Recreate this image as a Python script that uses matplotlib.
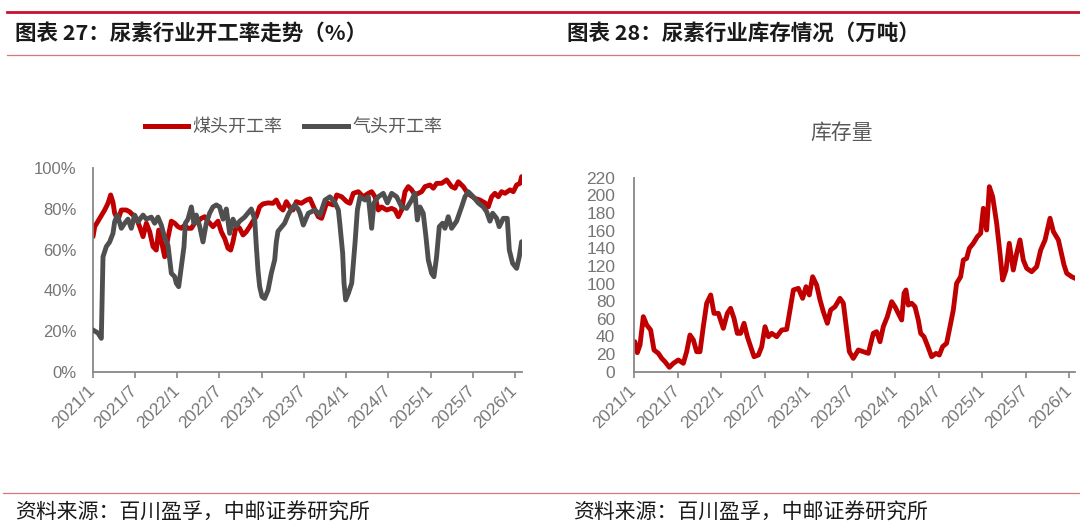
import matplotlib
matplotlib.use("Agg")
import matplotlib.pyplot as plt
from matplotlib.lines import Line2D

CJK = ["Noto Sans CJK SC", "DejaVu Sans"]
NUM = ["Liberation Sans", "DejaVu Sans"]

# ---------------- data (time = years since 2021-01-01) ----------------
tick_labels = ["2021/1", "2021/7", "2022/1", "2022/7", "2023/1", "2023/7",
               "2024/1", "2024/7", "2025/1", "2025/7", "2026/1"]

coal_t = [0.004, 0.024, 0.083, 0.142, 0.181, 0.213, 0.240, 0.260, 0.300, 0.339,
          0.398, 0.438, 0.477, 0.517, 0.556, 0.596, 0.635, 0.675, 0.714, 0.753,
          0.781, 0.820, 0.852, 0.892, 0.931, 0.971, 1.010, 1.049, 1.089, 1.128,
          1.168, 1.207, 1.247, 1.286, 1.326, 1.365, 1.424, 1.484, 1.523, 1.563,
          1.602, 1.634, 1.661, 1.701, 1.740, 1.780, 1.819, 1.859, 1.898, 1.937,
          1.977, 2.017, 2.076, 2.135, 2.174, 2.214, 2.253, 2.293, 2.332, 2.372,
          2.411, 2.470, 2.533, 2.573, 2.632, 2.671, 2.711, 2.770, 2.849, 2.889,
          2.948, 3.007, 3.046, 3.086, 3.145, 3.204, 3.264, 3.303, 3.343, 3.382,
          3.421, 3.481, 3.540, 3.580, 3.619, 3.658, 3.698, 3.737, 3.777, 3.816,
          3.856, 3.895, 3.935, 3.994, 4.033, 4.073, 4.132, 4.191, 4.250, 4.290,
          4.329, 4.388, 4.428, 4.467, 4.526, 4.586, 4.645, 4.684, 4.724, 4.763,
          4.803, 4.842, 4.882, 4.941, 4.980, 5.020, 5.059, 5.079]
coal_v = [66.4, 71.3, 75.4, 79.5, 82.8, 86.9, 83.3, 77.9, 74.6, 79.5,
          79.5, 78.6, 77.0, 75.4, 71.3, 66.4, 73.0, 68.8, 61.5, 59.8,
          69.6, 62.9, 56.5, 66.0, 74.0, 73.0, 71.3, 70.5, 72.0, 70.5,
          70.5, 73.0, 74.0, 75.4, 76.2, 74.0, 71.3, 74.0, 68.8, 65.5,
          60.7, 59.8, 63.9, 72.0, 70.5, 67.2, 68.8, 71.3, 74.0, 76.2,
          81.1, 82.5, 83.0, 82.8, 84.4, 81.0, 79.5, 83.6, 81.0, 79.5,
          83.6, 82.8, 84.4, 85.0, 79.5, 76.2, 75.4, 83.0, 82.0, 86.9,
          86.0, 83.6, 82.8, 87.7, 88.5, 86.0, 87.7, 88.5, 86.0, 79.5,
          81.0, 79.5, 80.3, 79.5, 76.2, 79.5, 88.5, 91.0, 89.4, 86.9,
          87.7, 88.5, 91.0, 91.8, 90.2, 92.6, 92.6, 94.3, 91.0, 90.2,
          93.4, 91.0, 88.5, 86.9, 85.2, 84.4, 83.0, 81.0, 86.0, 87.7,
          86.0, 88.5, 87.7, 89.4, 88.5, 91.8, 92.6, 95.9]

gas_t = [0.004, 0.063, 0.102, 0.122, 0.161, 0.201, 0.240, 0.260, 0.292, 0.339,
         0.379, 0.418, 0.457, 0.497, 0.536, 0.596, 0.635, 0.694, 0.734, 0.773,
         0.813, 0.852, 0.892, 0.931, 0.971, 0.990, 1.018, 1.049, 1.081, 1.097,
         1.128, 1.168, 1.199, 1.227, 1.266, 1.306, 1.345, 1.385, 1.424, 1.464,
         1.503, 1.543, 1.582, 1.622, 1.661, 1.701, 1.740, 1.799, 1.839, 1.878,
         1.918, 1.937, 1.957, 1.977, 2.005, 2.036, 2.076, 2.115, 2.155, 2.174,
         2.194, 2.234, 2.273, 2.313, 2.352, 2.392, 2.431, 2.454, 2.494, 2.553,
         2.632, 2.691, 2.751, 2.810, 2.869, 2.909, 2.928, 2.960, 2.976, 2.995,
         3.027, 3.067, 3.106, 3.134, 3.165, 3.225, 3.264, 3.303, 3.331, 3.382,
         3.441, 3.489, 3.540, 3.599, 3.658, 3.717, 3.777, 3.816, 3.844, 3.875,
         3.914, 3.946, 3.974, 4.013, 4.041, 4.072, 4.104, 4.143, 4.171, 4.210,
         4.250, 4.309, 4.368, 4.408, 4.447, 4.506, 4.565, 4.625, 4.664, 4.704,
         4.736, 4.783, 4.814, 4.862, 4.909, 4.933, 4.972, 5.020, 5.051, 5.079]
gas_v = [20.5, 19.0, 16.4, 56.5, 61.5, 63.8, 68.0, 73.7, 77.0, 70.5,
         73.0, 75.0, 70.5, 77.0, 73.7, 77.0, 75.0, 76.0, 73.0, 76.0,
         72.0, 66.0, 62.0, 48.4, 46.7, 43.5, 41.8, 51.7, 61.5, 73.0,
         75.0, 81.0, 73.0, 77.0, 71.6, 63.8, 73.0, 78.0, 81.0, 82.0,
         81.0, 75.0, 80.0, 68.0, 75.0, 71.6, 74.0, 76.0, 78.0, 80.0,
         75.0, 62.0, 50.0, 41.8, 36.9, 36.0, 40.0, 48.4, 55.0, 63.8,
         69.0, 71.0, 73.0, 77.0, 80.0, 82.0, 80.0, 77.9, 72.1, 77.9,
         79.5, 77.0, 84.4, 86.0, 83.0, 79.5, 72.0, 58.2, 43.5, 35.3,
         38.5, 43.5, 63.1, 79.5, 86.0, 84.4, 86.0, 70.5, 83.0, 86.0,
         87.7, 83.0, 87.7, 86.0, 81.0, 80.3, 84.4, 87.7, 74.6, 81.0,
         77.9, 66.4, 54.9, 48.4, 46.7, 56.5, 71.3, 73.0, 70.5, 76.2,
         70.5, 74.0, 81.0, 86.0, 88.5, 86.0, 83.0, 81.0, 78.7, 74.0,
         77.9, 75.4, 71.3, 75.4, 75.4, 59.8, 53.3, 50.8, 56.5, 63.9]

stock_t = [0.010, 0.038, 0.069, 0.107, 0.146, 0.191, 0.230, 0.280, 0.318, 0.356,
           0.406, 0.452, 0.509, 0.567, 0.605, 0.643, 0.682, 0.720, 0.758, 0.796,
           0.835, 0.881, 0.919, 0.969, 1.026, 1.072, 1.110, 1.149, 1.187, 1.225,
           1.264, 1.302, 1.340, 1.379, 1.429, 1.467, 1.505, 1.544, 1.582, 1.639,
           1.697, 1.754, 1.792, 1.831, 1.888, 1.937, 1.976, 2.014, 2.052, 2.098,
           2.137, 2.175, 2.221, 2.259, 2.309, 2.366, 2.405, 2.443, 2.474, 2.519,
           2.577, 2.634, 2.692, 2.749, 2.787, 2.826, 2.864, 2.910, 2.960, 2.998,
           3.036, 3.075, 3.102, 3.124, 3.151, 3.190, 3.228, 3.266, 3.293, 3.331,
           3.369, 3.419, 3.469, 3.507, 3.545, 3.591, 3.630, 3.668, 3.706, 3.752,
           3.783, 3.821, 3.852, 3.898, 3.944, 3.982, 4.013, 4.051, 4.082, 4.120,
           4.166, 4.204, 4.235, 4.273, 4.311, 4.357, 4.396, 4.434, 4.472, 4.511,
           4.568, 4.626, 4.672, 4.722, 4.779, 4.818, 4.875, 4.940, 4.971, 5.028,
           5.067]
stock_v = [34.0, 21.6, 30.3, 62.4, 53.0, 47.3, 24.6, 20.8, 15.2, 11.3,
           5.0, 9.5, 13.3, 9.5, 22.7, 41.6, 36.0, 22.7, 22.7, 51.0,
           77.6, 87.0, 66.2, 66.2, 49.2, 66.2, 71.9, 60.5, 43.5, 43.5,
           54.9, 39.7, 28.4, 17.0, 18.9, 28.4, 51.0, 39.7, 43.5, 39.7,
           47.3, 48.0, 70.0, 92.7, 94.5, 83.2, 96.4, 87.0, 107.7, 98.3,
           81.3, 68.0, 54.9, 70.0, 73.7, 83.2, 77.6, 47.3, 22.7, 15.1,
           24.6, 22.7, 20.8, 43.5, 45.4, 34.0, 51.0, 62.4, 79.4, 73.7,
           66.2, 58.6, 88.9, 92.7, 75.6, 77.6, 73.7, 58.6, 43.5, 39.7,
           30.3, 17.0, 20.8, 18.9, 28.4, 32.2, 51.0, 70.0, 100.2, 107.7,
           126.6, 128.5, 139.9, 145.6, 153.1, 156.9, 185.3, 160.7, 209.8, 198.5,
           168.3, 134.3, 104.0, 115.3, 145.6, 115.3, 134.3, 149.4, 126.6, 117.2,
           113.4, 119.1, 138.0, 149.4, 174.0, 158.8, 149.4, 121.0, 111.6, 107.7,
           105.9]

left_yticks = [0, 20, 40, 60, 80, 100]
left_ylabels = ["0%", "20%", "40%", "60%", "80%", "100%"]
right_yticks = list(range(0, 221, 20))

# ---------------- styling ----------------
RED = "#C00000"
GRAY = "#4F4F4F"
TXT = "#595959"
TICK = "#767676"
AXC = "#888888"

W, H = 1080, 531
fig = plt.figure(figsize=(W / 100, H / 100), dpi=100)


def fx(px):
    return px / W


def fy(py):
    return 1 - py / H


def tick_pos(lbl):
    y, m = lbl.split("/")
    return int(y) - 2021 + (int(m) - 1) / 12


xt = [tick_pos(l) for l in tick_labels]


def style_axis(ax, ypad, yfs, xfs):
    for s in ("top", "right"):
        ax.spines[s].set_visible(False)
    for s in ("left", "bottom"):
        ax.spines[s].set_color(AXC)
        ax.spines[s].set_linewidth(1.3)
    ax.set_xticks(xt)
    ax.set_xticklabels(tick_labels, fontfamily=NUM, fontsize=xfs, color=TICK)
    ax.tick_params(axis="x", length=4, width=1.2, color=AXC, pad=8)
    ax.tick_params(axis="y", length=0, pad=ypad, labelsize=yfs, labelcolor=TICK)
    for lbl in ax.get_yticklabels():
        lbl.set_fontfamily(NUM)
    for lbl in ax.get_xticklabels():
        lbl.set_rotation(45)
        lbl.set_ha("right")
        lbl.set_va("center")
        lbl.set_rotation_mode("anchor")


# ---------------- left chart ----------------
axl = fig.add_axes([fx(92.7), fy(371.7), fx(522.3 - 92.7), (371.7 - 168.3) / H])
axl.plot(coal_t, coal_v, color=RED, lw=3.5, solid_joinstyle="round",
         solid_capstyle="round", zorder=2)
axl.plot(gas_t, gas_v, color=GRAY, lw=3.5, solid_joinstyle="round",
         solid_capstyle="round", zorder=3)
axl.set_xlim(0, 5.087)
axl.set_ylim(0, 100)
axl.set_yticks(left_yticks)
axl.set_yticklabels(left_ylabels)
style_axis(axl, ypad=11.5, yfs=12, xfs=12.5)

handles = [Line2D([0], [0], color=RED, lw=3.6),
           Line2D([0], [0], color=GRAY, lw=3.6)]
leg = fig.legend(handles, ["煤头开工率", "气头开工率"], loc="center",
                 bbox_to_anchor=(fx(293.5), fy(127)), ncol=2, frameon=False,
                 prop={"family": CJK, "size": 13}, handlelength=2.4,
                 handletextpad=0.25, columnspacing=1.2, borderpad=0)
for t in leg.get_texts():
    t.set_color(TXT)

# ---------------- right chart ----------------
axr = fig.add_axes([fx(634), fy(371.7), fx(1075 - 634), (371.7 - 177.7) / H])
axr.plot(stock_t, stock_v, color=RED, lw=3.5, solid_joinstyle="round",
         solid_capstyle="round")
axr.set_xlim(0, 5.066)
axr.set_ylim(0, 220)
axr.set_yticks(right_yticks)
style_axis(axr, ypad=13.5, yfs=12.5, xfs=12.5)
fig.text(fx(841.7), fy(133), "库存量", ha="center", va="center",
         fontsize=15, color=TXT, family=CJK)

# ---------------- header / footer decoration ----------------
fig.add_artist(Line2D([fx(7), 1], [fy(11.5), fy(11.5)], transform=fig.transFigure,
                      color="#C8102E", lw=2.0))
fig.add_artist(Line2D([fx(7), 1], [fy(55), fy(55)], transform=fig.transFigure,
                      color="#D9757C", lw=0.9))
fig.add_artist(Line2D([fx(3), 1], [fy(493), fy(493)], transform=fig.transFigure,
                      color="#D9757C", lw=0.9))

fig.text(fx(15), fy(33), "图表 27：尿素行业开工率走势（%）", fontsize=15.5,
         fontweight="bold", va="center", ha="left", family=CJK, color="#1A1A1A")
fig.text(fx(567), fy(33), "图表 28：尿素行业库存情况（万吨）", fontsize=15.5,
         fontweight="bold", va="center", ha="left", family=CJK, color="#1A1A1A")
fig.text(fx(15), fy(513), "资料来源：百川盈孚，中邮证券研究所", fontsize=15,
         va="center", ha="left", family=CJK, color="#1A1A1A")
fig.text(fx(573), fy(513), "资料来源：百川盈孚，中邮证券研究所", fontsize=15,
         va="center", ha="left", family=CJK, color="#1A1A1A")

fig.savefig("out.png", dpi=100)
